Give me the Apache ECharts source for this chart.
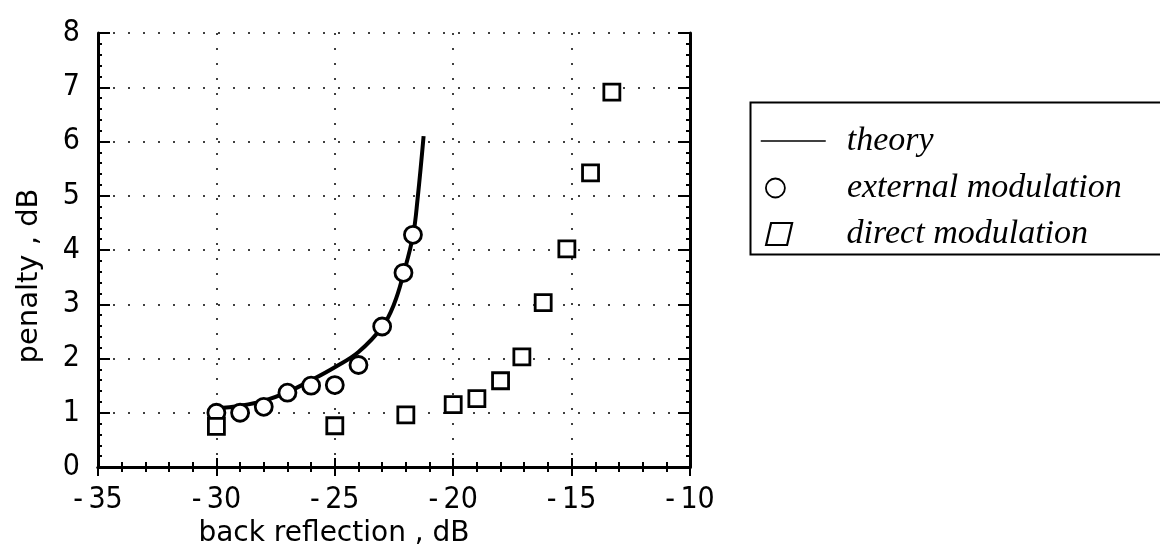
<!DOCTYPE html>
<html>
<head>
<meta charset="utf-8">
<script src="https://cdn.jsdelivr.net/npm/echarts@6/dist/echarts.min.js"></script>
<style>
  html, body { margin: 0; padding: 0; background: #fff; }
  #chart { width: 1160px; height: 554px; }
</style>
</head>
<body>
<div id="chart"></div>
<script>
// Penalty versus back reflection: theory curve and two measured sets
const theoryX = [-30, -29, -28, -27, -26, -25, -24, -23, -22.5, -22.1, -21.7, -21.5, -21.25];
const theoryY = [1.08, 1.13, 1.22, 1.38, 1.6, 1.84, 2.12, 2.58, 3.0, 3.56, 4.26, 4.96, 6.1];

const externalX = [-30, -29, -28, -27, -26, -25, -24, -23, -22.1, -21.7];
const externalY = [1.0, 1.0, 1.11, 1.37, 1.5, 1.51, 1.88, 2.59, 3.58, 4.28];

const directX = [-30, -25, -22, -20, -19, -18, -17.1, -16.2, -15.2, -14.2, -13.3];
const directY = [0.75, 0.76, 0.96, 1.15, 1.26, 1.59, 2.03, 3.03, 4.02, 5.42, 6.91];

const xTicks = { min: -35, max: -10, interval: 5 };
const yTicks = { min: 0, max: 8, interval: 1 };

const seriesNames = ['theory', 'external modulation', 'direct modulation'];

const pairs = (xs, ys) => xs.map((x, i) => [x, ys[i]]);

const tickFont = '"DejaVu Sans Condensed", "DejaVu Sans", sans-serif';
const titleFont = '"DejaVu Sans", sans-serif';
const legendFont = '"Liberation Serif", "DejaVu Serif", serif';

const frameLine = { show: true, lineStyle: { color: '#000', width: 3 } };
const gridLine = { show: true, lineStyle: { color: '#000', width: 1.5, type: [2, 13] } };

// legend text starts at the same column for every row
const legendText = (gapLeft) => ({
  fontFamily: legendFont, fontStyle: 'italic', fontSize: 34, color: '#000',
  padding: [0, 0, 0, gapLeft]
});

const chart = echarts.init(document.getElementById('chart'), null, { renderer: 'canvas' });

chart.setOption({
  backgroundColor: '#fff',
  animation: false,
  grid: { left: 98, right: 470, top: 33, bottom: 87 },
  xAxis: [
    {
      type: 'value', position: 'bottom',
      min: xTicks.min, max: xTicks.max, interval: xTicks.interval,
      axisLine: frameLine,
      axisTick: { show: true, inside: true, length: 9, lineStyle: { color: '#000', width: 2 } },
      minorTick: { show: true, splitNumber: 5, length: 5, lineStyle: { color: '#000', width: 2 } },
      axisLabel: { margin: 18, fontFamily: tickFont, fontSize: 30, color: '#000',
        formatter: v => String(v).replace('-', '-\u2009') },
      splitLine: gridLine,
      name: 'back reflection , dB', nameLocation: 'middle', nameGap: 50,
      nameTextStyle: { fontFamily: titleFont, fontSize: 28, color: '#000', padding: [0, 120, 0, 0] }
    },
    {
      type: 'value', position: 'top',
      min: xTicks.min, max: xTicks.max, interval: xTicks.interval,
      axisLine: frameLine,
      axisTick: { show: true, inside: true, length: 9, lineStyle: { color: '#000', width: 2 } },
      minorTick: { show: true, splitNumber: 5, length: 5, lineStyle: { color: '#000', width: 2 } },
      axisLabel: { show: false },
      splitLine: { show: false }
    }
  ],
  yAxis: [
    {
      type: 'value', position: 'left',
      min: yTicks.min, max: yTicks.max, interval: yTicks.interval,
      axisLine: frameLine,
      axisTick: { show: true, inside: true, length: 12, lineStyle: { color: '#000', width: 2 } },
      minorTick: { show: true, splitNumber: 5, length: 4, lineStyle: { color: '#000', width: 2 } },
      axisLabel: { margin: 18, fontFamily: tickFont, fontSize: 30, color: '#000' },
      splitLine: gridLine,
      name: 'penalty , dB', nameLocation: 'middle', nameGap: 54, nameRotate: 90,
      nameTextStyle: { fontFamily: titleFont, fontSize: 29, color: '#000', padding: [0, 52, 0, 0] }
    },
    {
      type: 'value', position: 'right',
      min: yTicks.min, max: yTicks.max, interval: yTicks.interval,
      axisLine: frameLine,
      axisTick: { show: true, inside: true, length: 12, lineStyle: { color: '#000', width: 2 } },
      minorTick: { show: true, splitNumber: 5, length: 4, lineStyle: { color: '#000', width: 2 } },
      axisLabel: { show: false },
      splitLine: { show: false }
    }
  ],
  legend: [
    {
      data: [seriesNames[0]], orient: 'vertical', left: 755, top: 119,
      itemWidth: 65, itemHeight: 14, selectedMode: false,
      lineStyle: { width: 1.5 },
      itemStyle: { color: 'rgba(0,0,0,0)', borderWidth: 0 },
      textStyle: legendText(16)
    },
    {
      data: [{ name: seriesNames[1], icon: 'circle' }], orient: 'vertical', left: 760, top: 166,
      itemWidth: 19, itemHeight: 21, selectedMode: false,
      itemStyle: { borderWidth: 1.8, opacity: 1 }, textStyle: legendText(57)
    },
    {
      data: [{ name: seriesNames[2], icon: 'path://M5,0 L26,0 L21,22 L0,22 Z' }], orient: 'vertical', left: 760, top: 212,
      itemWidth: 27, itemHeight: 22, selectedMode: false,
      itemStyle: { borderWidth: 2.2, opacity: 1 }, textStyle: legendText(49)
    }
  ],
  graphic: [
    {
      type: 'rect', left: 748, top: 100, silent: true,
      shape: { width: 460, height: 152 },
      style: { fill: 'none', stroke: '#000', lineWidth: 2 }
    }
  ],
  series: [
    {
      name: seriesNames[0], type: 'line', xAxisIndex: 0, yAxisIndex: 0,
      data: pairs(theoryX, theoryY), smooth: 0.4, symbol: 'none',
      lineStyle: { color: '#000', width: 4 }, itemStyle: { color: '#000' }, z: 3
    },
    {
      name: seriesNames[1], type: 'scatter', xAxisIndex: 0, yAxisIndex: 0,
      data: pairs(externalX, externalY), symbol: 'circle', symbolSize: 17,
      itemStyle: { color: '#fff', borderColor: '#000', borderWidth: 2.8, opacity: 1 }, z: 4
    },
    {
      name: seriesNames[2], type: 'scatter', xAxisIndex: 0, yAxisIndex: 0,
      data: pairs(directX, directY), symbol: 'rect', symbolSize: 16,
      itemStyle: { color: '#fff', borderColor: '#000', borderWidth: 2.8, opacity: 1 }, z: 4
    }
  ]
});
</script>
</body>
</html>
